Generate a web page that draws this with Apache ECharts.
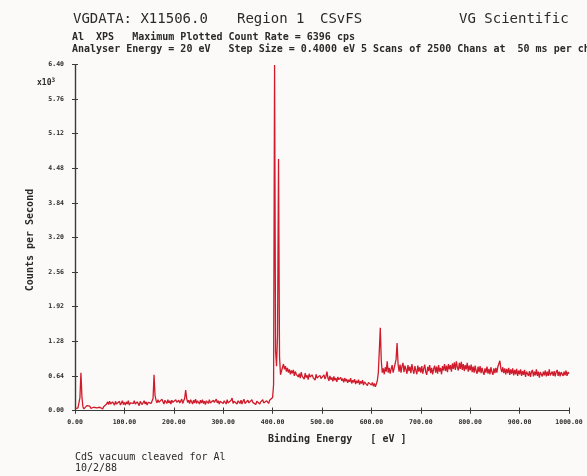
<!DOCTYPE html>
<html>
<head>
<meta charset="utf-8">
<title>VGDATA X11506.0 - CdS XPS survey</title>
<script src="https://cdn.jsdelivr.net/npm/echarts@6/dist/echarts.min.js"></script>
<style>
  html, body { margin: 0; padding: 0; background: #fcfaf8; }
  #chart { width: 587px; height: 476px; }
</style>
</head>
<body>
<div id="chart"></div>
<script>
// Survey spectrum, counts per second (x10^3), one channel every 2 eV of binding energy.
const START_EV = 0;
const STEP_EV = 2;

// 0 - 198 eV : Cd 4d, S 2p
const countsLow = [
  0.03, 0.06, 0.02, 0.05, 0.08, 0.24, 0.70, 0.26, 0.07, 0.03, 0.06, 0.04, 0.09, 0.10, 0.06, 0.08, 0.04, 0.07, 0.03, 0.06, 0.08, 0.04, 0.05, 0.07, 0.03,
  0.06, 0.04, 0.08, 0.03, 0.07, 0.05, 0.09, 0.12, 0.16, 0.11, 0.17, 0.12, 0.10, 0.16, 0.13, 0.10, 0.17, 0.12, 0.09, 0.15, 0.17, 0.10, 0.14, 0.18, 0.11,
  0.15, 0.10, 0.16, 0.12, 0.18, 0.10, 0.14, 0.17, 0.11, 0.13, 0.18, 0.12, 0.10, 0.16, 0.14, 0.09, 0.17, 0.15, 0.11, 0.13, 0.18, 0.12, 0.16, 0.10, 0.15,
  0.12, 0.17, 0.13, 0.16, 0.22, 0.66, 0.28, 0.19, 0.14, 0.20, 0.15, 0.18, 0.13, 0.21, 0.16, 0.12, 0.19, 0.17, 0.13, 0.20, 0.14, 0.18, 0.12, 0.19, 0.15
];

// 200 - 398 eV : S 2s, flat background below Cd 3d
const countsMid = [
  0.18, 0.13, 0.20, 0.15, 0.12, 0.19, 0.14, 0.17, 0.21, 0.13, 0.18, 0.22, 0.38, 0.23, 0.15, 0.19, 0.13, 0.20, 0.16, 0.12, 0.19, 0.14, 0.21, 0.13, 0.18,
  0.15, 0.12, 0.19, 0.14, 0.20, 0.13, 0.17, 0.11, 0.18, 0.15, 0.13, 0.20, 0.14, 0.17, 0.12, 0.19, 0.15, 0.13, 0.21, 0.14, 0.18, 0.12, 0.17, 0.14, 0.19,
  0.13, 0.18, 0.15, 0.12, 0.20, 0.14, 0.17, 0.11, 0.19, 0.23, 0.13, 0.17, 0.14, 0.20, 0.12, 0.18, 0.15, 0.13, 0.19, 0.12, 0.17, 0.21, 0.13, 0.16, 0.12,
  0.19, 0.14, 0.17, 0.12, 0.20, 0.15, 0.13, 0.18, 0.11, 0.17, 0.14, 0.19, 0.12, 0.16, 0.13, 0.20, 0.14, 0.17, 0.12, 0.18, 0.15, 0.13, 0.19, 0.16, 0.20
];

// 400 - 598 eV : Cd 3d doublet and its loss tail
const countsCd3d = [
  0.24, 0.48, 6.39, 1.10, 0.82, 1.40, 4.65, 1.00, 0.66, 0.73, 0.70, 0.86, 0.76, 0.82, 0.72, 0.79, 0.70, 0.76, 0.67, 0.74, 0.69, 0.75, 0.64, 0.72, 0.67,
  0.70, 0.62, 0.68, 0.60, 0.71, 0.63, 0.66, 0.58, 0.69, 0.61, 0.65, 0.57, 0.68, 0.62, 0.59, 0.66, 0.61, 0.64, 0.56, 0.67, 0.60, 0.63, 0.57, 0.65, 0.59,
  0.62, 0.56, 0.66, 0.58, 0.63, 0.72, 0.60, 0.55, 0.64, 0.57, 0.61, 0.54, 0.63, 0.56, 0.60, 0.53, 0.62, 0.57, 0.54, 0.61, 0.55, 0.59, 0.52, 0.60, 0.54,
  0.58, 0.51, 0.57, 0.53, 0.60, 0.50, 0.56, 0.52, 0.58, 0.49, 0.55, 0.51, 0.57, 0.48, 0.54, 0.50, 0.56, 0.47, 0.53, 0.50, 0.55, 0.46, 0.52, 0.49, 0.54
];

// 600 - 798 eV : Cd 3p doublet
const countsCd3p = [
  0.47, 0.52, 0.45, 0.50, 0.44, 0.49, 0.55, 0.70, 1.10, 1.53, 0.92, 0.70, 0.78, 0.67, 0.80, 0.72, 0.91, 0.70, 0.79, 0.68, 0.77, 0.84, 0.70, 0.78, 0.86,
  0.95, 1.25, 0.86, 0.72, 0.85, 0.70, 0.82, 0.88, 0.71, 0.83, 0.76, 0.68, 0.84, 0.73, 0.81, 0.69, 0.86, 0.75, 0.68, 0.82, 0.74, 0.67, 0.83, 0.72, 0.80,
  0.70, 0.82, 0.68, 0.78, 0.85, 0.71, 0.66, 0.81, 0.73, 0.84, 0.69, 0.79, 0.67, 0.77, 0.83, 0.70, 0.81, 0.68, 0.84, 0.72, 0.79, 0.67, 0.82, 0.74, 0.86,
  0.73, 0.83, 0.71, 0.86, 0.76, 0.84, 0.72, 0.87, 0.77, 0.89, 0.75, 0.91, 0.80, 0.74, 0.88, 0.77, 0.90, 0.75, 0.86, 0.73, 0.84, 0.76, 0.88, 0.72, 0.83
];

// 800 - 1000 eV : high binding energy background
const countsHigh = [
  0.74, 0.85, 0.71, 0.81, 0.70, 0.83, 0.73, 0.68, 0.81, 0.71, 0.82, 0.69, 0.79, 0.71, 0.66, 0.78, 0.70, 0.81, 0.68, 0.77, 0.67, 0.80, 0.71, 0.66, 0.78,
  0.69, 0.79, 0.70, 0.81, 0.84, 0.92, 0.78, 0.71, 0.80, 0.69, 0.78, 0.67, 0.77, 0.69, 0.79, 0.66, 0.76, 0.68, 0.78, 0.65, 0.75, 0.67, 0.77, 0.64, 0.74,
  0.67, 0.76, 0.64, 0.73, 0.66, 0.75, 0.62, 0.72, 0.75, 0.64, 0.73, 0.62, 0.71, 0.75, 0.63, 0.72, 0.65, 0.76, 0.64, 0.72, 0.61, 0.71, 0.74, 0.63, 0.72,
  0.65, 0.74, 0.63, 0.72, 0.64, 0.76, 0.65, 0.62, 0.72, 0.64, 0.73, 0.63, 0.71, 0.75, 0.64, 0.72, 0.63, 0.71, 0.74, 0.64, 0.72, 0.65, 0.74, 0.64, 0.71,
  0.68
];

const counts = [].concat(countsLow, countsMid, countsCd3d, countsCd3p, countsHigh);
const spectrum = counts.map((c, i) => [START_EV + i * STEP_EV, c]);

const INK = '#2a2a2a';
const FRAME = '#3a3a3a';
const MONO = '"DejaVu Sans Mono", "Liberation Mono", monospace';

const tickFmt = v => v.toFixed(2);

const xBase = { type: 'value', min: 0, max: 1000, interval: 100, splitLine: { show: false } };
const yBase = { type: 'value', min: 0, max: 6.4, interval: 0.64, splitLine: { show: false } };
const frameLine = { show: true, lineStyle: { color: FRAME, width: 1.2 } };
const tickStyle = { color: FRAME, width: 1 };

const chart = echarts.init(document.getElementById('chart'), null, { renderer: 'canvas' });

chart.setOption({
  backgroundColor: '#fcfaf8',
  animation: false,
  grid: { left: 75, right: 18, top: 64.5, bottom: 65.5, containLabel: false },
  xAxis: [
    Object.assign({}, xBase, {
      position: 'bottom',
      axisLine: frameLine,
      axisTick: { show: true, inside: false, length: 3, lineStyle: tickStyle },
      axisLabel: { formatter: tickFmt, fontFamily: MONO, fontSize: 6.5, fontWeight: 'bold', color: INK, margin: 8 }
    }),
    Object.assign({}, xBase, {
      position: 'bottom',
      axisLine: { show: false },
      axisTick: { show: true, inside: true, length: 3, lineStyle: tickStyle },
      axisLabel: { show: false }
    }),
    Object.assign({}, xBase, {
      position: 'top',
      axisLine: frameLine,
      axisTick: { show: true, inside: true, length: 3, lineStyle: tickStyle },
      axisLabel: { show: false }
    })
  ],
  yAxis: [
    Object.assign({}, yBase, {
      position: 'left',
      axisLine: frameLine,
      axisTick: { show: true, inside: false, length: 3, lineStyle: tickStyle },
      axisLabel: { formatter: tickFmt, fontFamily: MONO, fontSize: 6.5, fontWeight: 'bold', color: INK, margin: 11 }
    }),
    Object.assign({}, yBase, {
      position: 'left',
      axisLine: { show: false },
      axisTick: { show: true, inside: true, length: 3, lineStyle: tickStyle },
      axisLabel: { show: false }
    }),
    Object.assign({}, yBase, {
      position: 'right',
      axisLine: frameLine,
      axisTick: { show: true, inside: true, length: 3, lineStyle: tickStyle },
      axisLabel: { show: false }
    })
  ],
  series: [{
    name: 'Counts per Second',
    type: 'line',
    xAxisIndex: 0,
    yAxisIndex: 0,
    data: spectrum,
    showSymbol: false,
    symbol: 'none',
    clip: true,
    lineStyle: { color: '#cf1b2b', width: 1.3 }
  }],
  graphic: [
    { type: 'text', left: 73, top: 12, style: { text: 'VGDATA: X11506.0', font: '14px ' + MONO, fill: INK } },
    { type: 'text', left: 237, top: 12, style: { text: 'Region 1', font: '14px ' + MONO, fill: INK } },
    { type: 'text', left: 320, top: 12, style: { text: 'CSvFS', font: '14px ' + MONO, fill: INK } },
    { type: 'text', left: 459, top: 12, style: { text: 'VG Scientific', font: '14px ' + MONO, fill: INK } },
    { type: 'text', left: 72, top: 32, style: { text: 'Al  XPS   Maximum Plotted Count Rate = 6396 cps', font: 'bold 10px ' + MONO, fill: INK } },
    { type: 'text', left: 72, top: 44, style: { text: 'Analyser Energy = 20 eV   Step Size = 0.4000 eV 5 Scans of 2500 Chans at  50 ms per chan', font: 'bold 10px ' + MONO, fill: INK } },
    {
      type: 'text', left: 37, top: 77,
      style: {
        text: '{a|x10}{b|3}',
        rich: {
          a: { fontFamily: MONO, fontSize: 8, fontWeight: 'bold', fill: INK, color: INK, verticalAlign: 'bottom' },
          b: { fontFamily: MONO, fontSize: 6, fontWeight: 'bold', fill: INK, color: INK, verticalAlign: 'top', padding: [0, 0, 4, 0] }
        }
      }
    },
    {
      type: 'text', x: 30, y: 240, rotation: Math.PI / 2,
      style: { text: 'Counts per Second', font: 'bold 10px ' + MONO, fill: INK, align: 'center', verticalAlign: 'middle' }
    },
    { type: 'text', left: 268, top: 434, style: { text: 'Binding Energy   [ eV ]', font: 'bold 10px ' + MONO, fill: INK } },
    { type: 'text', left: 75, top: 452, style: { text: 'CdS vacuum cleaved for Al', font: '10px ' + MONO, fill: INK } },
    { type: 'text', left: 75, top: 463, style: { text: '10/2/88', font: '10px ' + MONO, fill: INK } }
  ]
});
</script>
</body>
</html>
